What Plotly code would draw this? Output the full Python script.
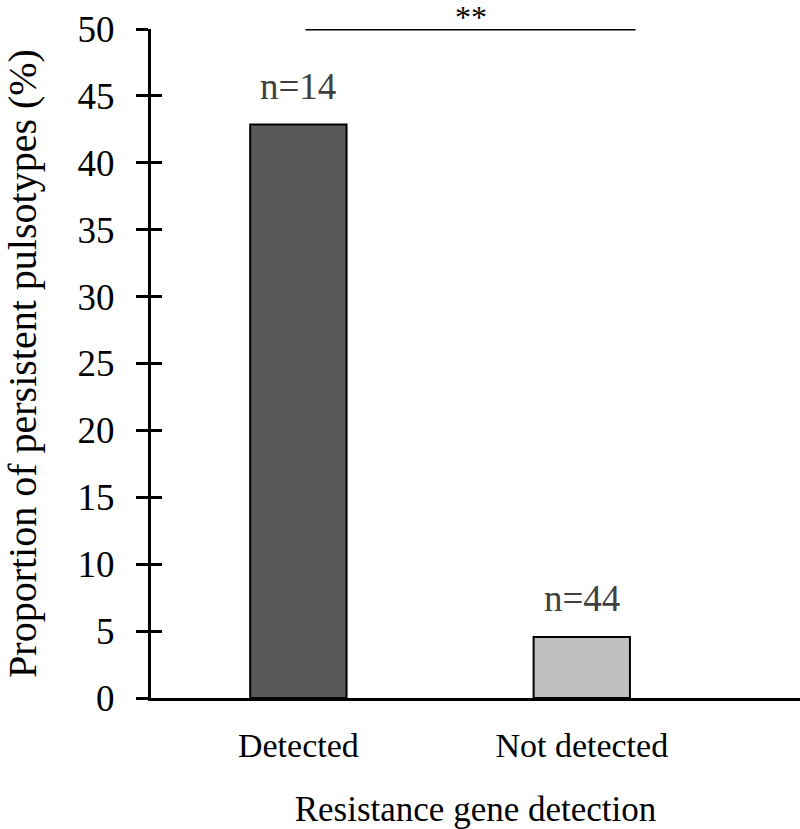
import plotly.graph_objects as go

categories = ["Detected", "Not detected"]
proportions = [42.86, 4.55]
sample_sizes = ["n=14", "n=44"]
bar_colors = ["#595959", "#bfbfbf"]
y_ticks = [0, 5, 10, 15, 20, 25, 30, 35, 40, 45, 50]
sig_span = [0.025, 1.19]
sig_level = 50
sig_label = "**"

FONT = "Liberation Serif, Times New Roman, serif"

fig = go.Figure()
fig.add_trace(
    go.Bar(
        x=[0, 1],
        y=proportions,
        width=0.34,
        marker=dict(color=bar_colors, line=dict(color="black", width=2)),
        showlegend=False,
        hoverinfo="skip",
    )
)

# sample size labels above bars
for i, (val, label) in enumerate(zip(proportions, sample_sizes)):
    fig.add_annotation(
        x=i, y=val, text=label, showarrow=False, yanchor="bottom", yshift=16,
        font=dict(family=FONT, size=37, color="#404040"),
    )

# significance bracket
fig.add_shape(
    type="line", xref="x", yref="y",
    x0=sig_span[0], x1=sig_span[1], y0=sig_level, y1=sig_level,
    line=dict(color="black", width=3),
)
fig.add_annotation(
    x=sum(sig_span) / 2, y=sig_level, text=sig_label, showarrow=False,
    yanchor="bottom", yshift=-8,
    font=dict(family=FONT, size=32, color="black"),
)

fig.update_layout(
    width=800,
    height=829,
    margin=dict(l=151, r=0, t=29, b=131),
    plot_bgcolor="white",
    paper_bgcolor="white",
    font=dict(family=FONT, size=34, color="black"),
    xaxis=dict(
        range=[-0.52, 1.77],
        tickmode="array",
        tickvals=[0, 1],
        ticktext=categories,
        tickfont=dict(size=34),
        showline=True,
        linecolor="black",
        linewidth=3,
        ticks="",
        showgrid=False,
        zeroline=False,
        automargin=False,
        ticklabelstandoff=15,
        title=dict(text="Resistance gene detection", standoff=35,
                   font=dict(family=FONT, size=35)),
    ),
    yaxis=dict(
        range=[0, 50],
        tickmode="array",
        tickvals=y_ticks,
        tickfont=dict(size=37),
        showline=True,
        linecolor="black",
        linewidth=3,
        ticks="outside",
        ticklen=12,
        tickwidth=2.5,
        tickcolor="black",
        showgrid=False,
        zeroline=False,
        automargin=False,
        ticklabelstandoff=14,
        title=dict(text="Proportion of persistent pulsotypes (%)", standoff=50,
                   font=dict(family=FONT, size=40)),
    ),
    # mirror axis to get cross-style tick marks
    yaxis2=dict(
        range=[0, 50],
        overlaying="y",
        side="left",
        tickmode="array",
        tickvals=y_ticks,
        ticks="inside",
        ticklen=11,
        tickwidth=2.5,
        tickcolor="black",
        showticklabels=False,
        showgrid=False,
        zeroline=False,
        showline=False,
        automargin=False,
    ),
)
fig.add_trace(go.Scatter(x=[None], y=[None], yaxis="y2", showlegend=False))

# drop the default body margin so the figure fills the window exactly
fig.write_html(
    "out.html",
    config={"displayModeBar": False},
    post_script="document.body.style.margin='0';",
)
